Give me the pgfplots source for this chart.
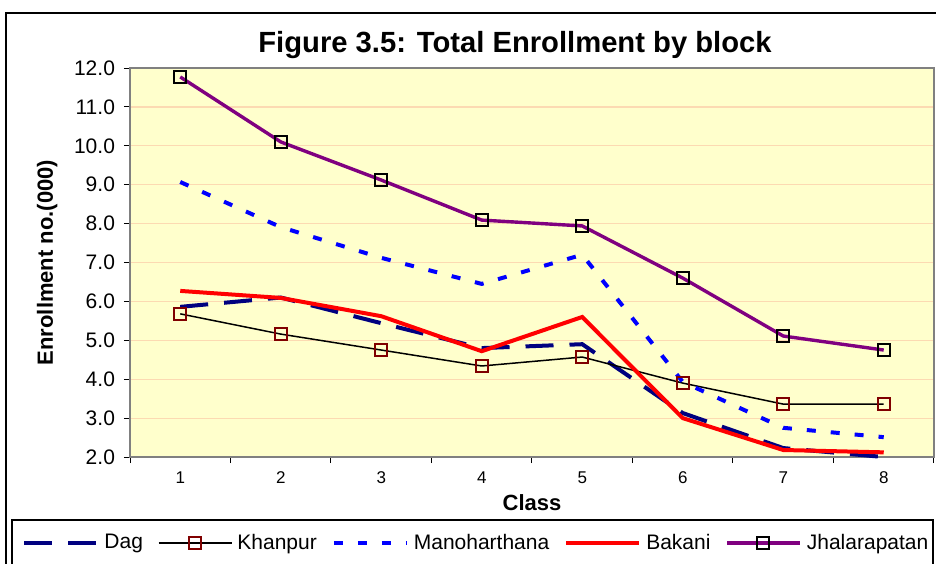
\documentclass[border=0pt]{standalone}
\usepackage{pgfplots}
\pgfplotsset{compat=1.18}
\usepackage{fontspec}
\setmainfont{Liberation Sans}
\definecolor{bgyel}{RGB}{255,255,204}
\definecolor{gridc}{RGB}{252,218,178}
\definecolor{axgray}{RGB}{128,128,128}
\definecolor{dagc}{RGB}{0,0,128}
\definecolor{khanc}{RGB}{128,0,0}
\definecolor{manoc}{RGB}{0,0,255}
\definecolor{bakc}{RGB}{255,0,0}
\definecolor{jhac}{RGB}{128,0,128}
\begin{document}
\begin{tikzpicture}
\path[use as bounding box] (0,0) rectangle (468pt,-281.5pt);
\clip (0,0) rectangle (468pt,-281.5pt);
\begin{scope}[x=0.5pt,y=-0.5pt]
\draw[black,line width=0.6pt] (6,13) rectangle (945,580);
\draw[black,line width=0.6pt] (12,520) rectangle (933,575);
\node[font=\fontsize{14.6}{17}\selectfont\bfseries] at (515,45) {Figure 3.5: Total Enrollment by block};
\end{scope}
\begin{axis}[
  at={(65pt,-228.5pt)}, anchor=south west,
  width=402pt, height=194.5pt, scale only axis,
  xmin=0.5, xmax=8.5, ymin=2, ymax=12,
  clip=false,
  axis background/.style={fill=bgyel},
  axis line style={axgray, line width=0.9pt},
  xtick={0.5,1.5,...,8.5},
  x tick label as interval,
  xticklabels={1,2,3,4,5,6,7,8},
  ytick={2,3,...,12},
  tick align=outside,
  major tick length=3pt,
  xtick pos=bottom, ytick pos=left,
  tick style={black, line width=0.5pt},
  ymajorgrids,
  grid style={gridc, line width=0.6pt},
  /pgf/number format/assume math mode=true,
  y tick label style={/pgf/number format/fixed, /pgf/number format/fixed zerofill, /pgf/number format/precision=1, font=\fontsize{10.5}{12}\selectfont, xshift=-1pt},
  x tick label style={font=\fontsize{8.5}{10}\selectfont, yshift=-1pt},
  xlabel={\textbf{Class}},
  ylabel={\textbf{Enrollment no.(000)}},
  label style={font=\fontsize{11}{13}\selectfont},
  xlabel style={at={(axis description cs:0.5,0)}, anchor=north, yshift=-15pt},
  ylabel style={xshift=0pt, yshift=1.5pt},
  legend columns=5,
  legend style={draw=none, fill=none, at={(axis description cs:-0.1343,-0.221)}, anchor=west,
    font=\fontsize{10.5}{12}\selectfont, inner sep=0pt,
    /tikz/every even column/.append style={column sep=5pt},
    nodes={inner sep=2.5pt}},
  legend image code/.code={\draw[#1, mark repeat=2, mark phase=2] plot coordinates {(0pt,0pt) (18pt,0pt) (36.5pt,0pt)};},
  legend cell align=left,
]
\addplot[dagc, line width=2pt, dash pattern=on 14pt off 8pt] coordinates {
(1,5.86) (2,6.10) (3,5.44) (4,4.80) (5,4.90) (6,3.13) (7,2.23) (8,2.00)};
\addlegendentry{Dag}
\addplot[black, line width=0.75pt, mark=square, mark size=3pt,
  mark options={solid, draw=khanc, fill=bgyel, line width=0.8pt}] coordinates {
(1,5.68) (2,5.16) (3,4.75) (4,4.34) (5,4.57) (6,3.90) (7,3.36) (8,3.36)};
\addlegendentry{Khanpur}
\addplot[manoc, line width=2pt, dash pattern=on 4.5pt off 7.5pt] coordinates {
(1,9.07) (2,7.91) (3,7.12) (4,6.45) (5,7.20) (6,3.93) (7,2.75) (8,2.51)};
\addlegendentry{Manoharthana}
\addplot[bakc, line width=2pt] coordinates {
(1,6.27) (2,6.09) (3,5.62) (4,4.72) (5,5.60) (6,3.00) (7,2.18) (8,2.12)};
\addlegendentry{Bakani}
\addplot[jhac, line width=1.7pt, mark=square, mark size=3pt,
  mark options={solid, draw=black, fill=bgyel, line width=0.8pt}] coordinates {
(1,11.77) (2,10.10) (3,9.12) (4,8.09) (5,7.94) (6,6.60) (7,5.11) (8,4.75)};
\addlegendentry{Jhalarapatan}
\end{axis}
\end{tikzpicture}
\end{document}
